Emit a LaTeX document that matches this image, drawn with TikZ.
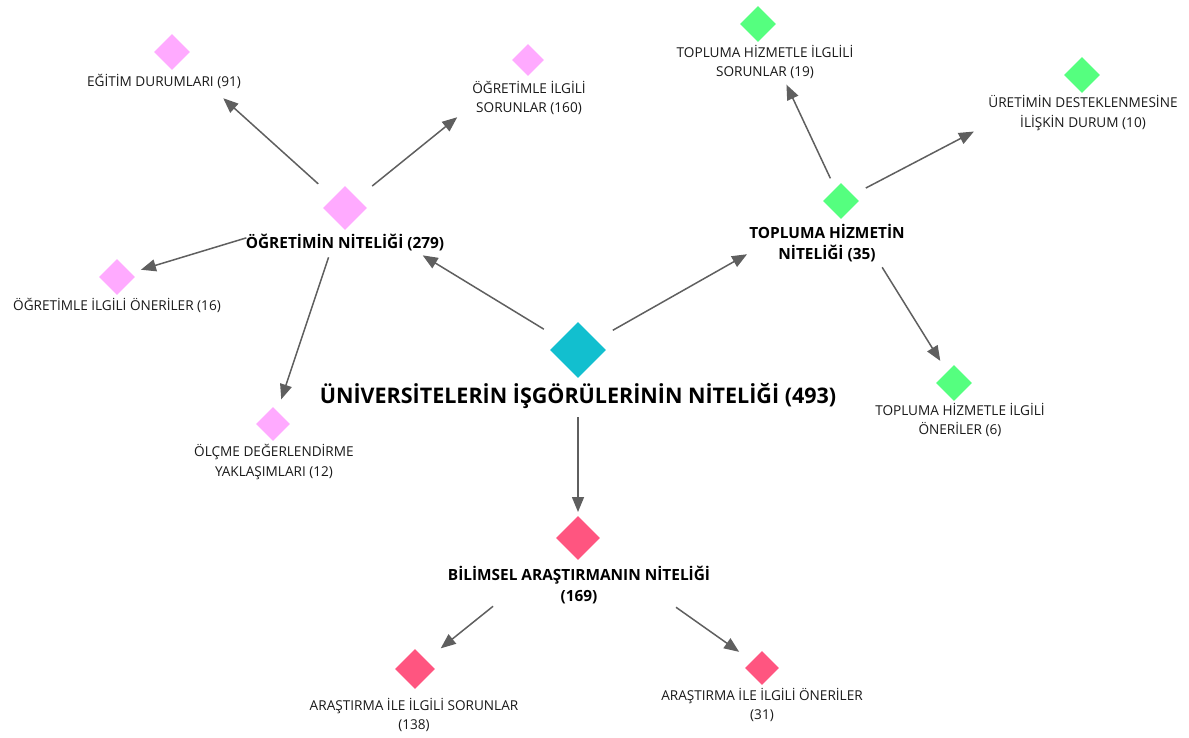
\documentclass[tikz,border=0pt]{standalone}
\usepackage{fontspec}
\setmainfont{Open Sans}
\usepackage{tikz}
\usetikzlibrary{arrows.meta,shapes,positioning}
\definecolor{tmteal}{RGB}{18,191,207}
\definecolor{tmpink}{RGB}{255,170,255}
\definecolor{tmgreen}{RGB}{85,255,127}
\definecolor{tmrose}{RGB}{255,85,128}
\definecolor{tmgray}{RGB}{95,95,95}
\tikzstyle{arrow} = [line width=1.5pt,-{Triangle[length=15pt,width=12pt]},color=tmgray]
\tikzstyle{codenode} = [diamond, inner sep=0pt, draw=none]
\tikzstyle{codetext} = [align=center, inner sep=0pt, text=black!90, font=\fontsize{13.6}{19.5}\selectfont]
\tikzstyle{themetext} = [align=center, inner sep=0pt, font=\fontsize{15.4}{21}\selectfont\bfseries]

\begin{document}
\begin{tikzpicture}[x=1pt, y=-1pt]
\useasboundingbox (0,0) rectangle (1189,737);

% Core theme
\node[codenode, fill=tmteal, minimum size=56pt] (main) at (578, 350) {};
\node[themetext, font=\fontsize{21.5}{26}\selectfont\bfseries] (mainL) at (578, 396) {ÜNİVERSİTELERİN İŞGÖRÜLERİNİN NİTELİĞİ (493)};

% Teaching
\node[codenode, fill=tmpink, minimum size=44pt] (ogretim) at (345, 208) {};
\node[themetext] (ogretimL) at (345, 243) {ÖĞRETİMİN NİTELİĞİ (279)};
\node[codenode, fill=tmpink, minimum size=36pt] (egitim) at (172, 52) {};
\node[codetext] (egitimL) at (164, 81) {EĞİTİM DURUMLARI (91)};
\node[codenode, fill=tmpink, minimum size=32pt] (ogrsorun) at (528, 60) {};
\node[codetext] (ogrsorunL) at (529, 98) {ÖĞRETİMLE İLGİLİ\\SORUNLAR (160)};
\node[codenode, fill=tmpink, minimum size=36pt] (ogroneri) at (117, 277) {};
\node[codetext] (ogroneriL) at (117, 305) {ÖĞRETİMLE İLGİLİ ÖNERİLER (16)};
\node[codenode, fill=tmpink, minimum size=34pt] (olcme) at (273, 424) {};
\node[codetext] (olcmeL) at (274, 462) {ÖLÇME DEĞERLENDİRME\\YAKLAŞIMLARI (12)};

% Community service
\node[codenode, fill=tmgreen, minimum size=36pt] (toplum) at (841, 201) {};
\node[themetext] (toplumL) at (827, 243) {TOPLUMA HİZMETİN\\NİTELİĞİ (35)};
\node[codenode, fill=tmgreen, minimum size=36pt] (tsorun) at (758, 24) {};
\node[codetext] (tsorunL) at (765, 62) {TOPLUMA HİZMETLE İLGLİLİ\\SORUNLAR (19)};
\node[codenode, fill=tmgreen, minimum size=36pt] (uretim) at (1082, 75) {};
\node[codetext] (uretimL) at (1083, 113) {ÜRETİMİN DESTEKLENMESİNE\\İLİŞKİN DURUM (10)};
\node[codenode, fill=tmgreen, minimum size=36pt] (toneri) at (954, 383) {};
\node[codetext] (toneriL) at (960, 420) {TOPLUMA HİZMETLE İLGİLİ\\ÖNERİLER (6)};

% Research
\node[codenode, fill=tmrose, minimum size=44pt] (bilimsel) at (578, 538) {};
\node[themetext] (bilimselL) at (579, 585) {BİLİMSEL ARAŞTIRMANIN NİTELİĞİ\\(169)};
\node[codenode, fill=tmrose, minimum size=40pt] (asorun) at (415, 669) {};
\node[codetext] (asorunL) at (414, 715) {ARAŞTIRMA İLE İLGİLİ SORUNLAR\\(138)};
\node[codenode, fill=tmrose, minimum size=34pt] (aoneri) at (762, 668) {};
\node[codetext] (aoneriL) at (762, 705) {ARAŞTIRMA İLE İLGİLİ ÖNERİLER\\(31)};

% Links
\draw[arrow, shorten <=40pt, shorten >=91pt] (main.center) -- (ogretim.center);
\draw[arrow, shorten <=40pt, shorten >=108pt] (main.center) -- (toplum.center);
\draw[arrow, shorten <=67pt, shorten >=26pt] (main.center) -- (bilimsel.center);
\draw[arrow, shorten <=36pt, shorten >=69pt] (ogretim.center) -- (egitim.center);
\draw[arrow, shorten <=35pt, shorten >=91pt] (ogretim.center) -- (ogrsorun.center);
\draw[arrow, shorten <=103pt, shorten >=25pt] (ogretim.center) -- (ogroneri.center);
\draw[arrow, shorten <=52pt, shorten >=26pt] (ogretim.center) -- (olcme.center);
\draw[arrow, shorten <=25pt, shorten >=67pt] (toplum.center) -- (tsorun.center);
\draw[arrow, shorten <=28pt, shorten >=122pt] (toplum.center) -- (uretim.center);
\draw[arrow, shorten <=78pt, shorten >=26pt] (toplum.center) -- (toneri.center);
\draw[arrow, shorten <=109pt, shorten >=33pt] (bilimsel.center) -- (asorun.center);
\draw[arrow, shorten <=120pt, shorten >=28pt] (bilimsel.center) -- (aoneri.center);
\end{tikzpicture}
\end{document}
